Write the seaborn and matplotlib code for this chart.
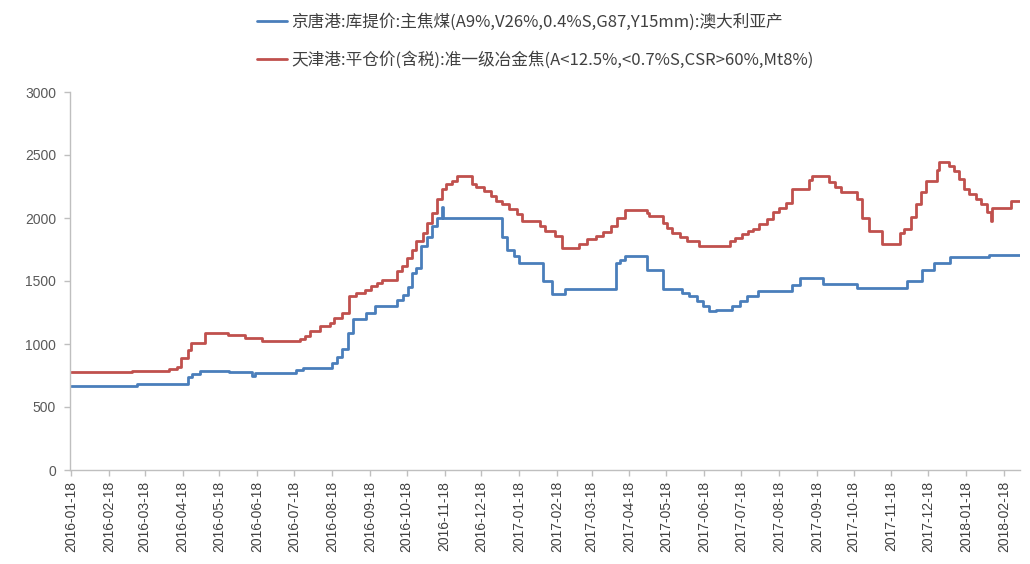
import matplotlib
matplotlib.use("Agg")
import matplotlib.pyplot as plt
import seaborn as sns
import pandas as pd

# ---- data (step change points) ----
blue_label = "京唐港:库提价:主焦煤(A9%,V26%,0.4%S,G87,Y15mm):澳大利亚产"
red_label = "天津港:平仓价(含税):准一级冶金焦(A<12.5%,<0.7%S,CSR>60%,Mt8%)"

blue_dates = [
    "2016-01-18", "2016-03-12", "2016-04-22", "2016-04-26", "2016-05-02", "2016-05-26",
    "2016-06-14", "2016-06-16", "2016-07-20", "2016-07-25", "2016-08-18", "2016-08-22",
    "2016-08-26", "2016-08-31", "2016-09-04", "2016-09-15", "2016-09-22", "2016-10-10",
    "2016-10-15", "2016-10-19", "2016-10-22", "2016-10-26", "2016-10-30", "2016-11-04",
    "2016-11-08", "2016-11-12", "2016-11-16", "2016-11-17", "2017-01-04", "2017-01-08",
    "2017-01-14", "2017-01-18", "2017-02-06", "2017-02-14", "2017-02-24", "2017-04-07",
    "2017-04-10", "2017-04-14", "2017-05-02", "2017-05-15", "2017-05-31", "2017-06-06",
    "2017-06-12", "2017-06-17", "2017-06-22", "2017-06-28", "2017-07-11", "2017-07-17",
    "2017-07-23", "2017-08-01", "2017-08-29", "2017-09-04", "2017-09-23", "2017-10-21",
    "2017-12-01", "2017-12-13", "2017-12-23", "2018-01-05", "2018-02-06", "2018-03-03",
]
blue_values = [
    668, 680, 740, 765, 785, 775,
    745, 768, 790, 808, 850, 900,
    960, 1090, 1195, 1250, 1300, 1350,
    1390, 1450, 1565, 1600, 1780, 1850,
    1940, 2000, 2090, 2000, 1850, 1750,
    1700, 1645, 1500, 1395, 1440, 1645,
    1670, 1695, 1590, 1440, 1405, 1380,
    1340, 1300, 1258, 1270, 1300, 1340,
    1380, 1420, 1470, 1520, 1475, 1445,
    1498, 1590, 1645, 1690, 1710, 1710,
]

red_dates = [
    "2016-01-18", "2016-03-08", "2016-03-28", "2016-04-07", "2016-04-13", "2016-04-17",
    "2016-04-22", "2016-04-25", "2016-05-06", "2016-05-25", "2016-06-08", "2016-06-12",
    "2016-06-22", "2016-07-23", "2016-07-27", "2016-07-31", "2016-08-08", "2016-08-16",
    "2016-08-20", "2016-08-26", "2016-09-01", "2016-09-07", "2016-09-14", "2016-09-19",
    "2016-09-24", "2016-09-28", "2016-10-10", "2016-10-14", "2016-10-18", "2016-10-22",
    "2016-10-26", "2016-10-31", "2016-11-04", "2016-11-08", "2016-11-12", "2016-11-16",
    "2016-11-19", "2016-11-24", "2016-11-28", "2016-12-10", "2016-12-14", "2016-12-20",
    "2016-12-26", "2016-12-30", "2017-01-04", "2017-01-10", "2017-01-16", "2017-01-20",
    "2017-02-04", "2017-02-08", "2017-02-16", "2017-02-22", "2017-03-08", "2017-03-14",
    "2017-03-22", "2017-03-27", "2017-04-03", "2017-04-08", "2017-04-14", "2017-05-02",
    "2017-05-04", "2017-05-15", "2017-05-19", "2017-05-23", "2017-05-29", "2017-06-04",
    "2017-06-14", "2017-07-09", "2017-07-13", "2017-07-19", "2017-07-24", "2017-07-28",
    "2017-08-02", "2017-08-08", "2017-08-13", "2017-08-18", "2017-08-24", "2017-08-29",
    "2017-09-12", "2017-09-14", "2017-09-28", "2017-10-03", "2017-10-08", "2017-10-21",
    "2017-10-25", "2017-10-31", "2017-11-10", "2017-11-25", "2017-11-28", "2017-12-04",
    "2017-12-08", "2017-12-12", "2017-12-16", "2017-12-25", "2017-12-27", "2018-01-04",
    "2018-01-08", "2018-01-12", "2018-01-16", "2018-01-20", "2018-01-26", "2018-01-30",
    "2018-02-04", "2018-02-07", "2018-02-08", "2018-02-24", "2018-03-03",
]
red_values = [
    775, 782, 788, 800, 820, 890,
    955, 1010, 1090, 1068, 1050, 1045,
    1020, 1040, 1060, 1100, 1145, 1170,
    1210, 1250, 1380, 1405, 1430, 1460,
    1485, 1510, 1580, 1620, 1685, 1750,
    1815, 1880, 1960, 2040, 2150, 2230,
    2270, 2295, 2330, 2270, 2245, 2215,
    2175, 2135, 2110, 2070, 2030, 1975,
    1935, 1895, 1855, 1765, 1790, 1830,
    1860, 1890, 1936, 2000, 2060, 2040,
    2013, 1963, 1923, 1883, 1852, 1817,
    1775, 1817, 1843, 1870, 1896, 1915,
    1950, 1990, 2045, 2083, 2122, 2228,
    2300, 2335, 2285, 2245, 2205, 2150,
    2000, 1895, 1790, 1880, 1910, 2005,
    2110, 2205, 2295, 2380, 2445, 2413,
    2375, 2307, 2228, 2188, 2148, 2108,
    2045, 1976, 2083, 2135, 2135,
]

tick_labels = [
    "2016-01-18", "2016-02-18", "2016-03-18", "2016-04-18", "2016-05-18", "2016-06-18",
    "2016-07-18", "2016-08-18", "2016-09-18", "2016-10-18", "2016-11-18", "2016-12-18",
    "2017-01-18", "2017-02-18", "2017-03-18", "2017-04-18", "2017-05-18", "2017-06-18",
    "2017-07-18", "2017-08-18", "2017-09-18", "2017-10-18", "2017-11-18", "2017-12-18",
    "2018-01-18", "2018-02-18",
]
y_ticks = [0, 500, 1000, 1500, 2000, 2500, 3000]

BLUE = "#4a7ebb"
RED = "#c0504d"

# ---- figure ----
sns.set_theme(style="white")
plt.rcParams["font.family"] = ["Liberation Sans", "Noto Sans CJK SC", "DejaVu Sans"]

fig = plt.figure(figsize=(10.30, 5.64), dpi=100)
ax = fig.add_axes([70 / 1030, 1 - 470 / 564, (1020 - 70) / 1030, (470 - 92) / 564])

df_blue = pd.DataFrame({"date": pd.to_datetime(blue_dates), "value": blue_values})
df_red = pd.DataFrame({"date": pd.to_datetime(red_dates), "value": red_values})

sns.lineplot(data=df_blue, x="date", y="value", ax=ax, color=BLUE, lw=2.0,
             drawstyle="steps-post", estimator=None, label=blue_label)
sns.lineplot(data=df_red, x="date", y="value", ax=ax, color=RED, lw=2.0,
             drawstyle="steps-post", estimator=None, label=red_label)

ax.set_ylim(0, 3000)
ax.set_xlim(pd.Timestamp(blue_dates[0]) - pd.Timedelta(days=1), pd.Timestamp(blue_dates[-1]))
ax.set_yticks(y_ticks)
ax.set_yticklabels([str(v) for v in y_ticks], fontsize=10, color="#595959")
ax.set_xticks(pd.to_datetime(tick_labels))
ax.set_xticklabels(tick_labels, rotation=90, fontsize=10, color="#404040")
ax.set_xlabel("")
ax.set_ylabel("")
ax.grid(False)

for side in ["top", "right"]:
    ax.spines[side].set_visible(False)
for side in ["left", "bottom"]:
    ax.spines[side].set_color("#bfbfbf")
    ax.spines[side].set_linewidth(1.0)
ax.tick_params(axis="both", which="major", direction="out", length=4, width=1,
               color="#bfbfbf", bottom=True, left=True)
ax.tick_params(axis="x", pad=4)
ax.tick_params(axis="y", pad=6)

leg = ax.legend(loc="upper left", bbox_to_anchor=(244 / 1030, 1.0), bbox_transform=fig.transFigure,
                frameon=False, fontsize=12, handlelength=1.75, handletextpad=0.3,
                labelspacing=1.2, borderaxespad=0.4)
for t in leg.get_texts():
    t.set_color("#404040")
    t.set_fontfamily(["Noto Sans CJK SC", "DejaVu Sans"])

fig.savefig("out.png", dpi=100)
